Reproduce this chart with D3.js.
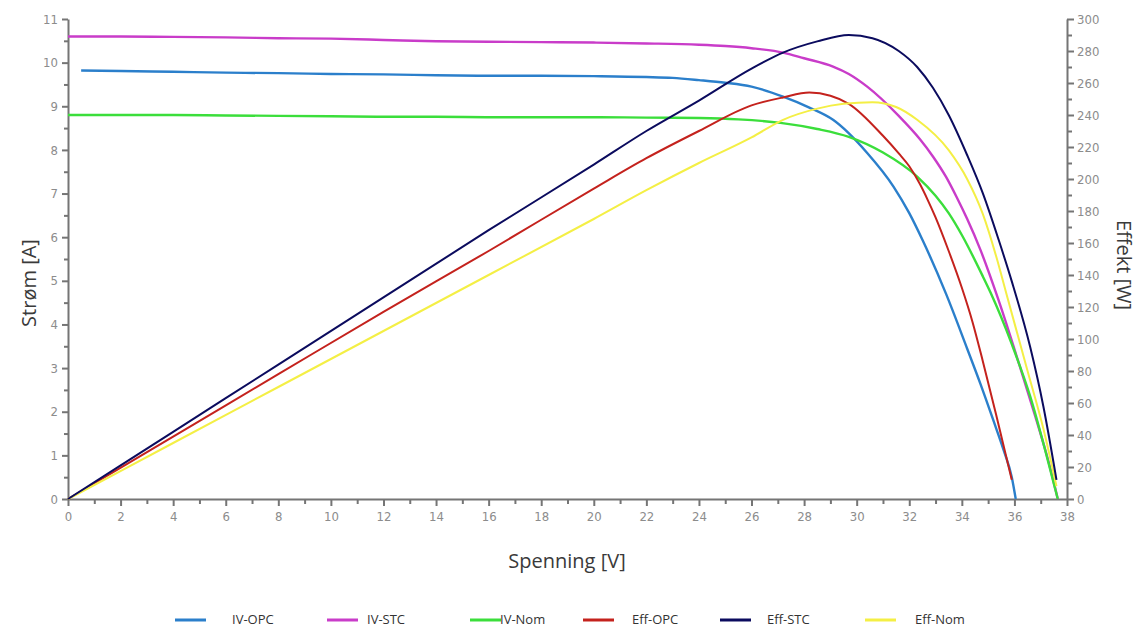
<!DOCTYPE html>
<html>
<head>
<meta charset="utf-8">
<script src="https://cdn.jsdelivr.net/npm/d3@7"></script>
<style>
  html, body { margin: 0; padding: 0; background: #fff; }
  svg { display: block; }
</style>
</head>
<body>
<svg id="chart" width="1137" height="628"></svg>
<script>
// ---------- data ----------
const xTicks = d3.range(0, 39, 2);
const yLeftTicks = d3.range(0, 12, 1);
const yRightTicks = d3.range(0, 301, 20);

const seriesNames = ["IV-OPC", "IV-STC", "IV-Nom", "Eff-OPC", "Eff-STC", "Eff-Nom"];

// IV curves: voltage [V] and current [A]
const ivOpcV = [0.5, 2, 4, 6, 8, 10, 12, 14, 16, 18, 20, 22, 23, 24, 25, 26, 27.2, 28.2, 29.1, 30.4, 31.4, 32.0, 32.5, 33.4, 34.2, 34.7, 35.2, 35.6, 35.9, 36.05];
const ivOpcI = [9.82, 9.81, 9.79, 9.77, 9.76, 9.74, 9.73, 9.71, 9.70, 9.70, 9.69, 9.67, 9.65, 9.60, 9.54, 9.45, 9.22, 8.97, 8.69, 7.93, 7.16, 6.55, 5.94, 4.70, 3.45, 2.65, 1.80, 1.10, 0.50, 0];

const ivStcV = [0, 2, 4, 6, 8, 10, 12, 14, 16, 18, 20, 22, 24, 25, 26, 27.2, 28, 29.1, 29.7, 30.4, 31.6, 32.4, 32.9, 33.4, 33.8, 34.2, 34.7, 35.4, 36.2, 36.8, 37.3, 37.65];
const ivStcI = [10.60, 10.60, 10.59, 10.58, 10.56, 10.55, 10.52, 10.49, 10.48, 10.47, 10.46, 10.44, 10.41, 10.38, 10.33, 10.23, 10.10, 9.91, 9.74, 9.45, 8.78, 8.25, 7.85, 7.38, 6.92, 6.42, 5.72, 4.55, 3.05, 1.88, 0.85, 0];

const ivNomV = [0, 2, 4, 6, 8, 10, 12, 14, 16, 18, 20, 22, 24, 25.5, 27.1, 28.5, 29.7, 31.0, 32.3, 33.0, 33.5, 34.0, 34.8, 35.1, 35.9, 36.6, 37.2, 37.65];
const ivNomI = [8.80, 8.80, 8.80, 8.79, 8.78, 8.77, 8.76, 8.76, 8.75, 8.75, 8.75, 8.74, 8.73, 8.70, 8.62, 8.48, 8.30, 7.94, 7.39, 6.95, 6.55, 6.05, 5.10, 4.72, 3.55, 2.35, 1.05, 0];

// Power curves: voltage [V] and power [W]
const effOpcV = [0, 4, 8, 12, 16, 20, 22, 24, 26, 27.2, 28.2, 29.0, 29.7, 31.0, 31.6, 32.0, 32.4, 32.7, 33.0, 33.5, 34.0, 34.4, 34.8, 35.3, 35.9];
const effOpcP = [0, 39, 78, 117, 155, 194, 213, 230, 246, 251, 254, 252, 247, 227, 216, 208, 197, 187, 176, 155, 132, 111, 86, 53, 12];

const effStcV = [0, 4, 8, 12, 16, 20, 22, 24, 26, 27.2, 28.5, 29.7, 30.6, 31.6, 32.3, 32.9, 33.5, 34.2, 34.8, 35.4, 35.9, 36.6, 37.1, 37.6];
const effStcP = [0, 42, 84, 126, 168, 209, 230, 249, 269, 279, 286, 290, 288, 280, 270, 257, 240, 215, 191, 162, 136, 95, 58, 12];

const effNomV = [0, 4, 8, 12, 16, 20, 22, 24, 26, 27.2, 28.5, 29.5, 30.6, 31.5, 32.3, 33.5, 34.2, 34.8, 35.3, 35.7, 36.5, 37.1, 37.6];
const effNomP = [0, 35, 70, 105, 140, 175, 193, 210, 226, 237, 244, 247, 248, 245, 237, 218, 200, 178, 152, 128, 80, 44, 8];

const seriesColors = ["#2b7fcb", "#c93cc9", "#3bde3b", "#c4221d", "#0b0b5e", "#f4ef45"];

// ---------- layout ----------
const svg = d3.select("#chart");
const plotL = 68, plotR = 1067, plotT = 19, plotB = 499;

const x = d3.scaleLinear().domain([0, 38]).range([plotL, plotR]);
const yL = d3.scaleLinear().domain([0, 11]).range([plotB, plotT]);
const yR = d3.scaleLinear().domain([0, 300]).range([plotB, plotT]);

const axisColor = "#757575";
const tickFont = "'Liberation Sans Narrow', 'DejaVu Sans Condensed', 'Roboto', sans-serif";

function styleAxis(g) {
  g.select(".domain").attr("stroke", axisColor).attr("stroke-width", 2);
  g.selectAll(".tick line").attr("stroke", axisColor).attr("stroke-width", 2);
  g.selectAll(".tick text").attr("fill", "#8c8c8c").style("font-family", tickFont).style("font-size", "13px");
}

// X axis
const gx = svg.append("g").attr("transform", `translate(0,${plotB})`);
gx.call(d3.axisBottom(x).tickValues(d3.range(1, 38, 2)).tickSize(5).tickFormat(""));
gx.call(g => g.select(".domain").remove());
const gx2 = svg.append("g").attr("transform", `translate(0,${plotB})`);
gx2.call(d3.axisBottom(x).tickValues(xTicks).tickSize(7).tickSizeOuter(0).tickPadding(6).tickFormat(d3.format("d")));
styleAxis(gx); styleAxis(gx2);

// Left axis
const gyl = svg.append("g").attr("transform", `translate(${plotL},0)`);
gyl.call(d3.axisLeft(yL).tickValues(d3.range(0.5, 11, 1)).tickSize(4).tickFormat(""));
gyl.call(g => g.select(".domain").remove());
const gyl2 = svg.append("g").attr("transform", `translate(${plotL},0)`);
gyl2.call(d3.axisLeft(yL).tickValues(yLeftTicks).tickSize(6).tickSizeOuter(0).tickPadding(4).tickFormat(d3.format("d")));
styleAxis(gyl); styleAxis(gyl2);

// Right axis
const gyr = svg.append("g").attr("transform", `translate(${plotR},0)`);
gyr.call(d3.axisRight(yR).tickValues(d3.range(10, 300, 20)).tickSize(5).tickFormat(""));
gyr.call(g => g.select(".domain").remove());
const gyr2 = svg.append("g").attr("transform", `translate(${plotR},0)`);
gyr2.call(d3.axisRight(yR).tickValues(yRightTicks).tickSize(7).tickSizeOuter(0).tickPadding(3).tickFormat(d3.format("d")));
styleAxis(gyr); styleAxis(gyr2);

// Axis titles
const titleFont = "'Open Sans', 'Noto Sans', sans-serif";
svg.append("text").text("Strøm [A]")
  .attr("transform", `translate(31,${(plotT + plotB) / 2 + 24}) rotate(-90)`)
  .attr("text-anchor", "middle").attr("dominant-baseline", "middle")
  .attr("fill", "#3a3a3a").style("font-family", titleFont).style("font-size", "20px");
svg.append("text").text("Effekt [W]")
  .attr("transform", `translate(1122,${(plotT + plotB) / 2 + 6}) rotate(90)`)
  .attr("text-anchor", "middle").attr("dominant-baseline", "middle")
  .attr("fill", "#3a3a3a").style("font-family", titleFont).style("font-size", "20px");
svg.append("text").text("Spenning [V]")
  .attr("x", 567).attr("y", 563)
  .attr("text-anchor", "middle").attr("dominant-baseline", "middle")
  .attr("fill", "#3a3a3a").style("font-family", titleFont).style("font-size", "20px");

// ---------- lines ----------
const ivSeries = [
  { name: seriesNames[0], v: ivOpcV, y: ivOpcI },
  { name: seriesNames[1], v: ivStcV, y: ivStcI },
  { name: seriesNames[2], v: ivNomV, y: ivNomI }
];
const effSeries = [
  { name: seriesNames[3], v: effOpcV, y: effOpcP },
  { name: seriesNames[5], v: effNomV, y: effNomP },
  { name: seriesNames[4], v: effStcV, y: effStcP }
];
const color = d3.scaleOrdinal().domain(seriesNames).range(seriesColors);

const lineL = d3.line().x(d => x(d[0])).y(d => yL(d[1])).curve(d3.curveMonotoneX);
const lineR = d3.line().x(d => x(d[0])).y(d => yR(d[1])).curve(d3.curveMonotoneX);

ivSeries.forEach(s => {
  svg.append("path")
    .datum(s.v.map((v, i) => [v, s.y[i]]))
    .attr("fill", "none").attr("stroke", color(s.name))
    .attr("stroke-width", 2.4).attr("stroke-linejoin", "round")
    .attr("d", lineL);
});
effSeries.forEach(s => {
  svg.append("path")
    .datum(s.v.map((v, i) => [v, s.y[i]]))
    .attr("fill", "none").attr("stroke", color(s.name))
    .attr("stroke-width", 2).attr("stroke-linejoin", "round")
    .attr("d", lineR);
});

// ---------- legend ----------
const legendSwatchX = [175, 327, 470, 583, 720, 865];
const legendTextX = [232, 367, 500, 632, 767, 915];
const legendY = 620;
const lg = svg.append("g");
seriesNames.forEach((n, i) => {
  lg.append("line")
    .attr("x1", legendSwatchX[i]).attr("x2", legendSwatchX[i] + 31)
    .attr("y1", legendY).attr("y2", legendY)
    .attr("stroke", color(n)).attr("stroke-width", 3);
  lg.append("text").text(n)
    .attr("x", legendTextX[i]).attr("y", legendY + 1)
    .attr("dominant-baseline", "middle")
    .attr("fill", "#333").style("font-family", titleFont).style("font-size", "13px");
});
</script>
</body>
</html>
